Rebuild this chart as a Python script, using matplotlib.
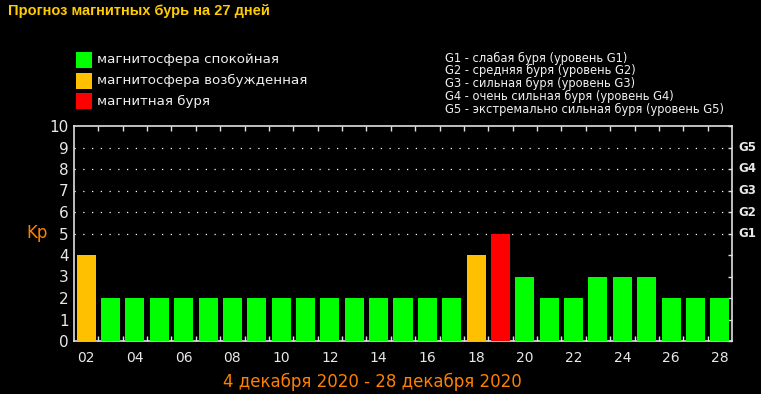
import matplotlib
matplotlib.use("Agg")
import matplotlib.pyplot as plt
import matplotlib.patches as patches
import numpy as np

# Прогноз Kp по дням (2..28 декабря)
days = list(range(2, 29))
kp = [4, 2, 2, 2, 2, 2, 2, 2, 2, 2, 2, 2, 2, 2, 2, 2, 4, 5, 3, 2, 2, 3, 3, 3, 2, 2, 2]

GREEN = "#00ff00"
ORANGE = "#ffc000"
RED = "#ff0000"

legend_labels = ["магнитосфера спокойная", "магнитосфера возбужденная", "магнитная буря"]
legend_colors = [GREEN, ORANGE, RED]

g_levels = ["G1", "G2", "G3", "G4", "G5"]
g_kp = [5, 6, 7, 8, 9]
g_descr = ["слабая буря", "средняя буря", "сильная буря",
           "очень сильная буря", "экстремально сильная буря"]

title = "Прогноз магнитных бурь на 27 дней"
period = "4 декабря 2020 - 28 декабря 2020"


def bar_color(v):
    if v >= 5:
        return RED
    if v >= 4:
        return ORANGE
    return GREEN


W, H = 761, 394
fig = plt.figure(figsize=(W / 100, H / 100), dpi=100, facecolor="black")

left, right, top, bottom = 74, 732, 126, 341
ax = fig.add_axes([left / W, 1 - bottom / H, (right - left) / W, (bottom - top) / H])
ax.set_facecolor("black")

x = np.arange(len(days))
ax.bar(x, kp, width=0.78, color=[bar_color(v) for v in kp], edgecolor="none", zorder=3)

ax.set_xlim(-0.5, len(days) - 0.5)
ax.set_ylim(0, 10)

# пунктирная сетка только на уровнях бурь
for y in g_kp:
    ax.axhline(y, color="white", linestyle=(0, (1, 6)), linewidth=0.9, zorder=1)

for s in ax.spines.values():
    s.set_color("#e0e0e0")
    s.set_linewidth(1.2)

ax.set_xticks(x[::2])
ax.set_xticklabels([f"{d:02d}" for d in days[::2]])
ax.set_xticks(x[:-1] + 0.5, minor=True)
ax.tick_params(axis="x", which="major", length=0, pad=7, labelsize=10, labelcolor="#e8e8e8")
ax.tick_params(axis="x", which="minor", direction="in", length=3.6, width=1,
               color="#e0e0e0", top=True, bottom=True)

ax.set_yticks(range(0, 11))
ax.tick_params(axis="y", which="major", direction="in", length=3, width=1, color="#e0e0e0",
               left=False, right=True, pad=4, labelsize=11, labelcolor="#e8e8e8")

for g, y in zip(g_levels, g_kp):
    ax.text(1.009, y, g, transform=ax.get_yaxis_transform(), color="#e8e8e8",
            fontsize=8.5, fontweight="bold", va="center", ha="left")

ax.text(-0.073, 5, "Kp", transform=ax.get_yaxis_transform(), color="#ff8000",
        fontsize=12, va="center", ha="left")

# заголовок
fig.text(8 / W, 1 - 11 / H, title, color="#ffcc00", fontsize=10.5, fontweight="bold",
         family="Liberation Sans", va="center", ha="left")

# легенда
for i, (lab, c) in enumerate(zip(legend_labels, legend_colors)):
    yc = 60 + 20.7 * i
    fig.patches.append(patches.Rectangle((76 / W, 1 - (yc + 8) / H), 16 / W, 16 / H,
                                         transform=fig.transFigure, facecolor=c,
                                         edgecolor="none"))
    fig.text(97 / W, 1 - yc / H, lab, color="#f0f0f0", fontsize=9.6, va="center", ha="left")

for i, (g, d) in enumerate(zip(g_levels, g_descr)):
    yc = 58 + 12.8 * i
    fig.text(445 / W, 1 - yc / H, f"{g} - {d} (уровень {g})", color="#f0f0f0",
             fontsize=8.3, va="center", ha="left")

fig.text(372 / W, 1 - 382 / H, period, color="#ff8000", fontsize=12,
         va="center", ha="center")

fig.savefig("out.png", dpi=100, facecolor="black")
